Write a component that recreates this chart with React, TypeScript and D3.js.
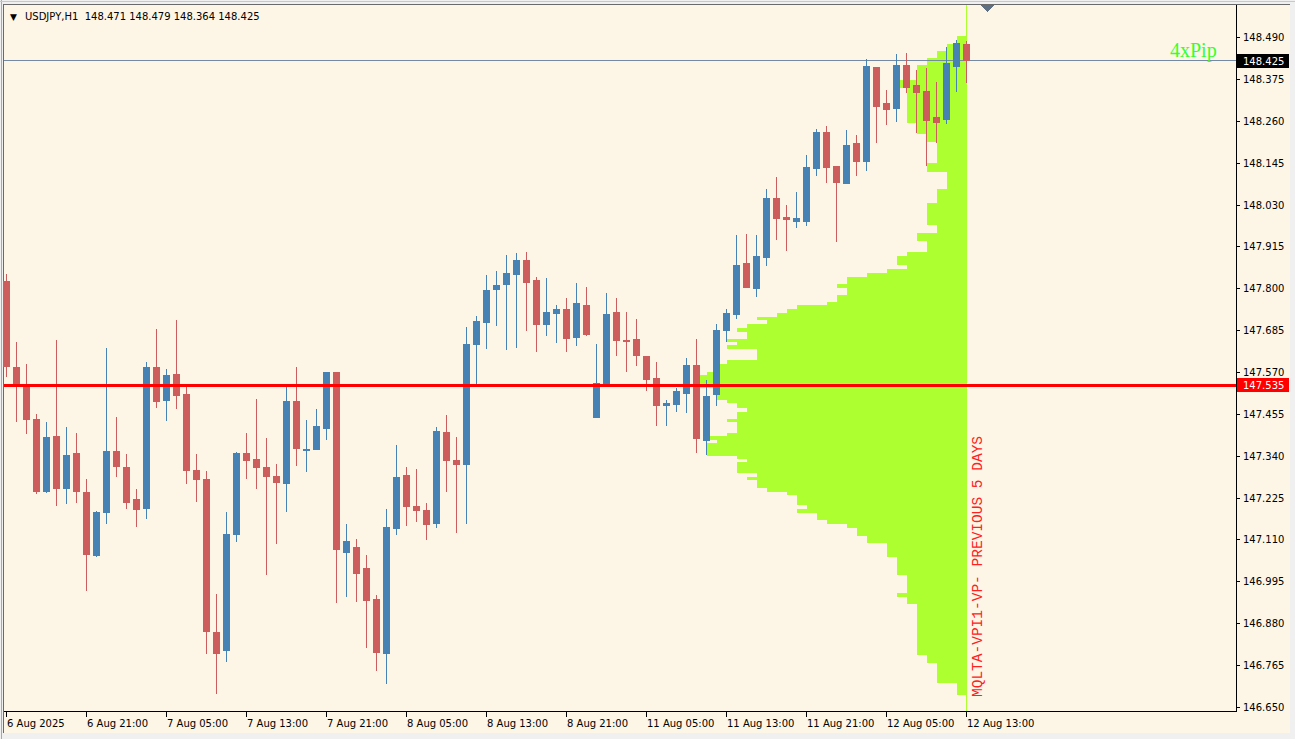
import React from 'react';
import * as d3 from 'd3';

// USDJPY H1, 6 Aug 13:00 .. 12 Aug 13:00 (one entry per hourly bar)
const opens = [
  147.820, 147.583, 147.537, 147.442, 147.240, 147.394, 147.249, 147.347, 147.240, 147.066,
  147.184, 147.353, 147.308, 147.222, 147.194, 147.583, 147.489, 147.565, 147.510, 147.301,
  147.277, 146.855, 146.804, 147.122, 147.347, 147.332, 147.308, 147.284, 147.263, 147.490,
  147.352, 147.355, 147.413, 147.569, 147.074, 147.089, 147.031, 146.946, 146.796, 147.140,
  147.288, 147.202, 147.192, 147.152, 147.404, 147.328, 147.314, 147.644, 147.705, 147.794,
  147.809, 147.837, 147.878, 147.823, 147.699, 147.729, 147.744, 147.664, 147.754, 147.444,
  147.537, 147.735, 147.659, 147.661, 147.614, 147.553, 147.477, 147.479, 147.510, 147.589,
  147.380, 147.507, 147.683, 147.726, 147.868, 147.799, 147.884, 148.047, 147.996, 147.983,
  147.983, 148.127, 148.228, 148.137, 148.086, 148.198, 148.148, 148.407, 148.308, 148.292,
  148.413, 148.358, 148.342, 148.269, 148.262, 148.408, 148.471,
];
const highs = [
  147.839, 147.653, 147.591, 147.454, 147.433, 147.657, 147.420, 147.402, 147.275, 147.187,
  147.635, 147.447, 147.344, 147.250, 147.598, 147.687, 147.577, 147.712, 147.537, 147.345,
  147.299, 146.960, 147.186, 147.351, 147.402, 147.496, 147.389, 147.317, 147.534, 147.585,
  147.437, 147.468, 147.569, 147.571, 147.152, 147.111, 147.067, 146.957, 147.193, 147.369,
  147.310, 147.303, 147.209, 147.420, 147.452, 147.392, 147.694, 147.725, 147.836, 147.848,
  147.890, 147.896, 147.900, 147.832, 147.827, 147.753, 147.772, 147.814, 147.804, 147.646,
  147.788, 147.772, 147.736, 147.715, 147.615, 147.598, 147.492, 147.526, 147.609, 147.662,
  147.548, 147.702, 147.742, 147.946, 147.948, 147.946, 148.073, 148.106, 148.029, 148.065,
  148.166, 148.237, 148.246, 148.137, 148.235, 148.221, 148.429, 148.408, 148.344, 148.443,
  148.447, 148.399, 148.404, 148.367, 148.463, 148.482, 148.479,
];
const lows = [
  147.557, 147.433, 147.399, 147.234, 147.237, 147.203, 147.207, 147.209, 146.969, 147.063,
  147.152, 147.282, 147.193, 147.145, 147.165, 147.470, 147.436, 147.468, 147.262, 147.214,
  146.795, 146.685, 146.774, 147.104, 147.275, 147.248, 147.012, 147.099, 147.185, 147.313,
  147.295, 147.355, 147.382, 146.935, 146.953, 146.939, 146.812, 146.750, 146.712, 147.123,
  147.148, 147.159, 147.108, 147.141, 147.240, 147.127, 147.152, 147.532, 147.632, 147.697,
  147.630, 147.635, 147.683, 147.625, 147.670, 147.650, 147.625, 147.642, 147.670, 147.443,
  147.530, 147.615, 147.570, 147.586, 147.519, 147.422, 147.422, 147.459, 147.457, 147.347,
  147.342, 147.477, 147.653, 147.715, 147.800, 147.777, 147.862, 147.932, 147.903, 147.965,
  147.971, 148.108, 148.088, 147.928, 148.085, 148.109, 148.123, 148.198, 148.248, 148.256,
  148.335, 148.226, 148.137, 148.198, 148.250, 148.340, 148.364,
];
const closes = [
  147.583, 147.531, 147.438, 147.240, 147.391, 147.249, 147.342, 147.240, 147.068, 147.185,
  147.353, 147.310, 147.211, 147.191, 147.583, 147.488, 147.562, 147.503, 147.297, 147.273,
  146.855, 146.796, 147.126, 147.347, 147.325, 147.307, 147.283, 147.266, 147.490, 147.359,
  147.359, 147.422, 147.569, 147.081, 147.106, 147.016, 146.941, 146.799, 147.144, 147.282,
  147.198, 147.187, 147.150, 147.408, 147.325, 147.314, 147.648, 147.710, 147.795, 147.810,
  147.841, 147.878, 147.815, 147.699, 147.734, 147.744, 147.661, 147.759, 147.671, 147.539,
  147.730, 147.654, 147.652, 147.613, 147.548, 147.476, 147.484, 147.518, 147.589, 147.387,
  147.504, 147.685, 147.731, 147.864, 147.801, 147.888, 148.047, 147.990, 147.987, 147.992,
  148.132, 148.228, 148.131, 148.090, 148.193, 148.148, 148.410, 148.299, 148.290, 148.413,
  148.351, 148.337, 148.259, 148.255, 148.418, 148.473, 148.425,
];

// time axis
const timeLabels = [
  '6 Aug 2025', '6 Aug 21:00', '7 Aug 05:00', '7 Aug 13:00', '7 Aug 21:00', '8 Aug 05:00',
  '8 Aug 13:00', '8 Aug 21:00', '11 Aug 05:00', '11 Aug 13:00', '11 Aug 21:00',
  '12 Aug 05:00', '12 Aug 13:00',
];
const timeTickBars = [0, 8, 16, 24, 32, 40, 48, 56, 64, 72, 80, 88, 96];

// price axis
const priceTicks = [
  148.490, 148.375, 148.260, 148.145, 148.030, 147.915, 147.800, 147.685, 147.570,
  147.455, 147.340, 147.225, 147.110, 146.995, 146.880, 146.765, 146.650,
];
const lastPrice = 148.425;
const pocPrice = 147.535;

// volume profile (previous 5 days): step edges, top to bottom, and volume units between them
const vpEdges = [
  148.493, 148.471, 148.452, 148.432, 148.413, 148.372, 148.349, 148.253, 148.224, 148.202,
  148.143, 148.120, 148.072, 148.033, 147.974, 147.953, 147.931, 147.900, 147.889, 147.864,
  147.852, 147.843, 147.832, 147.812, 147.802, 147.781, 147.763, 147.754, 147.742, 147.731,
  147.722, 147.713, 147.702, 147.690, 147.681, 147.662, 147.653, 147.644, 147.632, 147.603,
  147.592, 147.571, 147.562, 147.525, 147.493, 147.484, 147.472, 147.461, 147.440, 147.433,
  147.403, 147.394, 147.383, 147.374, 147.340, 147.331, 147.324, 147.293, 147.282, 147.273,
  147.252, 147.241, 147.232, 147.205, 147.194, 147.184, 147.163, 147.153, 147.142, 147.120,
  147.101, 147.063, 147.012, 146.964, 146.953, 146.933, 146.793, 146.772, 146.715, 146.683,
];
const vpVolume = [
  1, 2, 3, 4, 5, 7, 6, 5, 4, 3,
  4, 2, 3, 4, 3, 5, 4, 6, 7, 6,
  8, 10, 12, 13, 12, 13, 14, 17, 18, 19,
  21, 20, 22, 23, 22, 24, 23, 24, 21, 24,
  25, 26, 27, 25, 24, 23, 22, 23, 24, 23,
  24, 26, 25, 26, 23, 22, 23, 21, 22, 21,
  20, 18, 17, 16, 17, 15, 14, 12, 11, 10,
  8, 7, 6, 7, 6, 5, 4, 3, 1,
];

const W = 1295;
const H = 739;
const BULL = '#4682b4';
const BEAR = '#cd5c5c';
const BG = '#fdf5e6';
const VP = '#adff2f';
const axisFont = "'DejaVu Sans', sans-serif";

export default function App() {
  const y = d3.scaleLinear().domain([146.65, 148.49]).range([707, 37]);
  const x = d3.scaleLinear().domain([0, 96]).range([6, 966]);
  const vpX = d3.scaleLinear().domain([0, 27]).range([967, 697]);
  const profileEnd = x(96);

  const candles = opens.map((o, i) => {
    const c = closes[i];
    const cx = Math.round(x(i));
    const top = Math.round(y(Math.max(o, c)));
    const bot = Math.round(y(Math.min(o, c)));
    const hi = Math.round(y(highs[i]));
    const lo = Math.round(y(lows[i]));
    const col = c >= o ? BULL : BEAR;
    return (
      <g key={i} fill={col}>
        <rect x={cx} y={hi} width={1} height={Math.max(1, lo - hi)} />
        <rect x={cx - 3} y={top} width={7} height={Math.max(1, bot - top)} />
      </g>
    );
  });

  const profile = vpVolume.map((v, k) => {
    const y0 = Math.round(y(vpEdges[k]));
    const y1 = Math.round(y(vpEdges[k + 1]));
    return (
      <rect key={k} x={vpX(v)} y={y0} width={vpX(0) - vpX(v)} height={Math.max(1, y1 - y0)} fill={VP} />
    );
  });

  const yLast = Math.floor(y(lastPrice));
  const yPoc = Math.round(y(pocPrice));

  return (
    <svg width={W} height={H} style={{ position: 'absolute', left: 0, top: 0 }} shapeRendering="crispEdges">
      {/* window frame */}
      <rect x={0} y={0} width={W} height={H} fill="#f0f0f0" />
      <rect x={3} y={4} width={1287} height={729} fill={BG} />
      <line x1={3.5} y1={4} x2={3.5} y2={733} stroke="#6a6a6a" />
      <line x1={1.5} y1={0} x2={1.5} y2={739} stroke="#a9a9a9" />
      <line x1={3} y1={4.5} x2={1290} y2={4.5} stroke="#6a6a6a" />
      <line x1={0} y1={1.5} x2={W} y2={1.5} stroke="#c8c8c8" />

      {/* volume profile */}
      <g>{profile}</g>
      <rect x={profileEnd} y={5} width={1} height={706} fill={VP} />

      {/* last price line */}
      <line x1={4} y1={yLast + 0.5} x2={1236} y2={yLast + 0.5} stroke="#7489a6" />

      <g>{candles}</g>

      {/* POC line */}
      <rect x={4} y={yPoc - 1} width={1232} height={3} fill="#ff0000" />

      {/* axes */}
      <line x1={1236.5} y1={5} x2={1236.5} y2={712} stroke="#000" />
      <line x1={4} y1={711.5} x2={1237} y2={711.5} stroke="#000" />
      {priceTicks.map((p) => (
        <g key={p}>
          <line x1={1237} y1={Math.round(y(p)) + 0.5} x2={1240} y2={Math.round(y(p)) + 0.5} stroke="#000" />
          <text x={1243} y={Math.round(y(p)) + 4} fontFamily={axisFont} fontSize={10} fill="#000">
            {d3.format('.3f')(p)}
          </text>
        </g>
      ))}
      {timeTickBars.map((b, k) => (
        <g key={b}>
          <line x1={x(b) + 0.5} y1={712} x2={x(b) + 0.5} y2={717} stroke="#000" />
          <text x={x(b) + 1} y={727} fontFamily={axisFont} fontSize={10} fill="#000">
            {timeLabels[k]}
          </text>
        </g>
      ))}

      {/* price boxes */}
      <rect x={1237} y={yLast - 6} width={52} height={14} fill="#000" />
      <text x={1243} y={yLast + 5} fontFamily={axisFont} fontSize={10} fill="#fff">
        {d3.format('.3f')(lastPrice)}
      </text>
      <rect x={1237} y={yPoc - 7} width={52} height={14} fill="#ff0000" />
      <text x={1243} y={yPoc + 4} fontFamily={axisFont} fontSize={10} fill="#fff">
        {d3.format('.3f')(pocPrice)}
      </text>

      {/* labels */}
      <text x={10} y={20} fontFamily={axisFont} fontSize={9} fill="#000">▼</text>
      <text x={25} y={20} fontFamily={axisFont} fontSize={10} fill="#000" style={{ whiteSpace: 'pre' }}>
        {'USDJPY,H1  148.471 148.479 148.364 148.425'}
      </text>
      <text x={1170} y={57} fontFamily="'Liberation Serif', serif" fontSize={20} fill="#33ff33">4xPip</text>
      <text
        transform={`translate(982, 697) rotate(-90)`}
        fontFamily="'Liberation Mono', monospace"
        fontSize={14.5}
        fill="#ff2020"
      >
        MQLTA-VPI1-VP- PREVIOUS 5 DAYS
      </text>
      <polygon points="980,5 994,5 987,12" fill="#5f7083" />
    </svg>
  );
}
